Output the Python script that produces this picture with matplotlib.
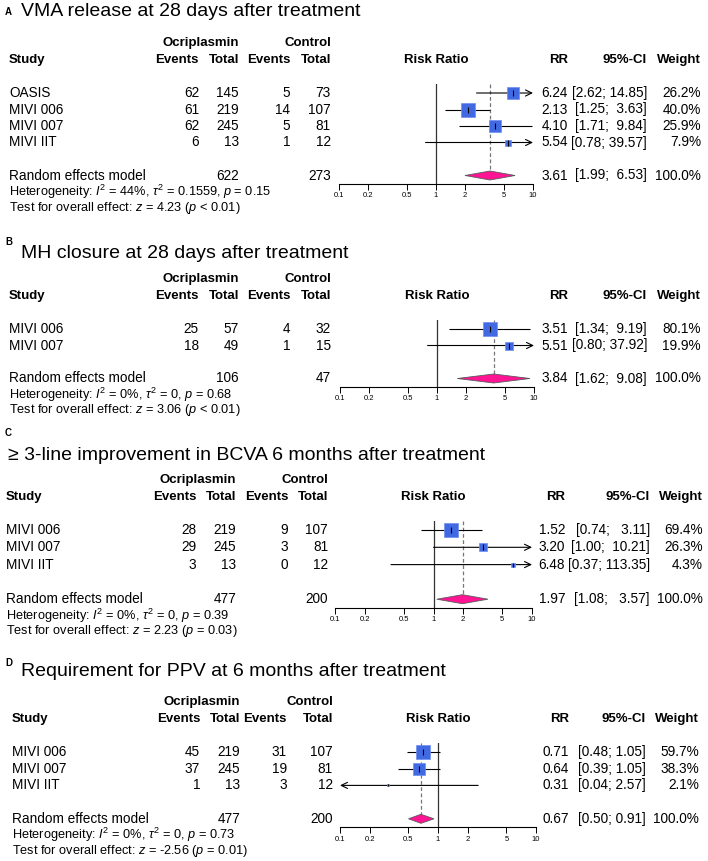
"""
Forest plots (4 panels) of ocriplasmin vs control, risk ratios, random effects.
Saves out.png (708 x 861 px).
"""

import numpy as np
import matplotlib
matplotlib.use("Agg")
import matplotlib.pyplot as plt

plt.rcParams["font.family"] = ["Liberation Sans", "DejaVu Sans"]
plt.rcParams["mathtext.fontset"] = "custom"
plt.rcParams["mathtext.rm"] = "Liberation Sans"
plt.rcParams["mathtext.it"] = "Liberation Sans:italic"
plt.rcParams["mathtext.bf"] = "Liberation Sans:bold"

# ----------------------------------------------------------------- data
# A: VMA release at 28 days
studies_a = ["OASIS", "MIVI 006", "MIVI 007", "MIVI IIT"]
ev_t_a = [62, 61, 62, 6]
n_t_a = [145, 219, 245, 13]
ev_c_a = [5, 14, 5, 1]
n_c_a = [73, 107, 81, 12]
rr_a = [6.24, 2.13, 4.10, 5.54]
lo_a = [2.62, 1.25, 1.71, 0.78]
hi_a = [14.85, 3.63, 9.84, 39.57]
w_a = [26.2, 40.0, 25.9, 7.9]
pooled_a = [3.61, 1.99, 6.53]
totals_a = [622, 273]
het_a = ["44%", "0.1559", "= 0.15"]
test_a = ["4.23", "< 0.01"]

# B: MH closure at 28 days
studies_b = ["MIVI 006", "MIVI 007"]
ev_t_b = [25, 18]
n_t_b = [57, 49]
ev_c_b = [4, 1]
n_c_b = [32, 15]
rr_b = [3.51, 5.51]
lo_b = [1.34, 0.80]
hi_b = [9.19, 37.92]
w_b = [80.1, 19.9]
pooled_b = [3.84, 1.62, 9.08]
totals_b = [106, 47]
het_b = ["0%", "0", "= 0.68"]
test_b = ["3.06", "< 0.01"]

# C: >= 3-line improvement in BCVA at 6 months
studies_c = ["MIVI 006", "MIVI 007", "MIVI IIT"]
ev_t_c = [28, 29, 3]
n_t_c = [219, 245, 13]
ev_c_c = [9, 3, 0]
n_c_c = [107, 81, 12]
rr_c = [1.52, 3.20, 6.48]
lo_c = [0.74, 1.00, 0.37]
hi_c = [3.11, 10.21, 113.35]
w_c = [69.4, 26.3, 4.3]
pooled_c = [1.97, 1.08, 3.57]
totals_c = [477, 200]
het_c = ["0%", "0", "= 0.39"]
test_c = ["2.23", "= 0.03"]

# D: requirement for PPV at 6 months
studies_d = ["MIVI 006", "MIVI 007", "MIVI IIT"]
ev_t_d = [45, 37, 1]
n_t_d = [219, 245, 13]
ev_c_d = [31, 19, 3]
n_c_d = [107, 81, 12]
rr_d = [0.71, 0.64, 0.31]
lo_d = [0.48, 0.39, 0.04]
hi_d = [1.05, 1.05, 2.57]
w_d = [59.7, 38.3, 2.1]
pooled_d = [0.67, 0.50, 0.91]
totals_d = [477, 200]
het_d = ["0%", "0", "= 0.73"]
test_d = ["-2.56", "= 0.01"]

titles = ["VMA release at 28 days after treatment",
          "MH closure at 28 days after treatment",
          "\u2265 3-line improvement in BCVA 6 months after treatment",
          "Requirement for PPV at 6 months after treatment"]
letters = ["A", "B", "C", "D"]
ticks = [0.1, 0.2, 0.5, 1, 2, 5, 10]
tick_labels = ["0.1", "0.2", "0.5", "1", "2", "5", "10"]

# ----------------------------------------------------------------- layout (px)
W, H = 708, 861
layouts = [
    dict(label=(5, 12), title=(21, 12), first=93, row_h=16.5, fx=(339, 533),
         study_x=9, cols=(199, 239, 290, 331), rcols=(568, 647, 701)),
    dict(label=(5, 242), title=(21, 254), first=329, row_h=16.5, fx=(340, 534),
         study_x=9, cols=(199, 239, 290, 331), rcols=(568, 647, 701)),
    dict(label=(5, 433), title=(8, 455), first=530, row_h=17.3, fx=(335, 532),
         study_x=6, cols=(196, 236, 288, 328), rcols=(565, 650, 703)),
    dict(label=(5, 663), title=(21, 671), first=752, row_h=16.7, fx=(340, 536),
         study_x=12, cols=(200, 240, 287, 333), rcols=(569, 646, 699)),
]

SQUARE = "#4169e1"
DIAMOND = "#ff1493"
FS = 9.8
FS_BOLD = 9.5
FS_SMALL = 9.2


def fmt_ci(lo, hi):
    """R meta style: pad numbers with spaces to a common width."""
    los = [f"{v:.2f}" for v in lo]
    his = [f"{v:.2f}" for v in hi]
    wl = max(len(s) for s in los)
    wh = max(len(s) for s in his)
    return [f"[{a.rjust(wl)}; {b.rjust(wh)}]" for a, b in zip(los, his)]


def draw_panel(fig, bg, lay, letter, title, studies, ev_t, n_t, ev_c, n_c,
               rr, lo, hi, w, pooled, totals, het, test):
    k = len(studies)
    first, rh = lay["first"], lay["row_h"]
    ys = [first + i * rh for i in range(k)]
    y_re = first + (k + 1) * rh
    y_axis = y_re + 8.5
    y_h2 = first - 33
    y_h1 = first - 50
    top = first - 9

    # titles
    bg.text(*lay["label"], letter, fontsize=7, fontweight="bold", va="center")
    bg.text(*lay["title"], title, fontsize=14, va="center")

    # headers
    c1, c2, c3, c4 = lay["cols"]
    r1, r2, r3 = lay["rcols"]
    hb = dict(fontsize=FS_BOLD, fontweight="bold", va="center")
    bg.text(lay["study_x"], y_h2, "Study", ha="left", **hb)
    bg.text(c2, y_h1, "Ocriplasmin", ha="right", **hb)
    bg.text(c4, y_h1, "Control", ha="right", **hb)
    for x, s in zip(lay["cols"], ["Events", "Total", "Events", "Total"]):
        bg.text(x, y_h2, s, ha="right", **hb)
    bg.text(sum(lay["fx"]) / 2, y_h2, "Risk Ratio", ha="center", **hb)
    bg.text(r1, y_h2, "RR", ha="right", **hb)
    bg.text(r2, y_h2, "95%-CI", ha="right", **hb)
    bg.text(r3, y_h2, "Weight", ha="right", **hb)

    # table rows
    ci_txt = fmt_ci(lo + [pooled[1]], hi + [pooled[2]])
    tk = dict(fontsize=FS, va="center")
    for i, y in enumerate(ys):
        bg.text(lay["study_x"], y, studies[i], ha="left", **tk)
        for x, v in zip(lay["cols"], [ev_t[i], n_t[i], ev_c[i], n_c[i]]):
            bg.text(x, y, str(v), ha="right", **tk)
        bg.text(r1, y, f"{rr[i]:.2f}", ha="right", **tk)
        bg.text(r2, y, ci_txt[i], ha="right", **tk)
        bg.text(r3, y, f"{w[i]:.1f}%", ha="right", **tk)

    bg.text(lay["study_x"], y_re, "Random effects model", ha="left", **tk)
    bg.text(c2, y_re, str(totals[0]), ha="right", **tk)
    bg.text(c4, y_re, str(totals[1]), ha="right", **tk)
    bg.text(r1, y_re, f"{pooled[0]:.2f}", ha="right", **tk)
    bg.text(r2, y_re, ci_txt[-1], ha="right", **tk)
    bg.text(r3, y_re, "100.0%", ha="right", **tk)

    bg.text(lay["study_x"], y_re + 16.5,
            f"Heterogeneity: $I^2$ = {het[0]}, $\\tau^2$ = {het[1]}, $p$ {het[2]}",
            fontsize=FS_SMALL, va="center")
    bg.text(lay["study_x"], y_re + 32,
            f"Test for overall effect: $z$ = {test[0]} ($p$ {test[1]})",
            fontsize=FS_SMALL, va="center")

    # forest axes: y data in figure pixels
    x0, x1 = lay["fx"]
    ax = fig.add_axes([x0 / W, 1 - y_axis / H, (x1 - x0) / W, (y_axis - top) / H])
    ax.set_facecolor("none")
    ax.set_xscale("log")
    ax.set_xlim(0.1, 10)
    ax.set_ylim(y_axis, top)
    for s in ["top", "left", "right"]:
        ax.spines[s].set_visible(False)
    ax.spines["bottom"].set_linewidth(0.8)
    ax.set_yticks([])
    ax.set_xticks(ticks)
    ax.set_xticklabels(tick_labels)
    ax.minorticks_off()
    ax.tick_params(axis="x", length=4, width=0.7, labelsize=5.5, pad=2)

    ax.axvline(1, color="#333333", lw=0.9)
    ax.plot([pooled[0], pooled[0]], [top, y_re - 4.5], color="#777777",
            lw=0.9, ls=(0, (3, 2)))

    wmax = max(w)
    arrow = dict(arrowstyle="->,head_length=0.45,head_width=0.22",
                 lw=0.8, color="black", shrinkA=0, shrinkB=0)
    for i, y in enumerate(ys):
        a, b = max(lo[i], 0.1), min(hi[i], 10)
        if hi[i] > 10:
            ax.annotate("", xy=(10, y), xytext=(a, y), arrowprops=arrow,
                        annotation_clip=False)
        elif lo[i] < 0.1:
            ax.annotate("", xy=(0.1, y), xytext=(b, y), arrowprops=arrow,
                        annotation_clip=False)
        else:
            ax.plot([a, b], [y, y], color="black", lw=0.8,
                    solid_capstyle="butt")
        ms = 10.2 * np.sqrt(w[i] / wmax)
        ax.plot(rr[i], y, marker="s", ms=ms, mfc=SQUARE, mec="#6d8ff0",
                mew=0.5, zorder=3, clip_on=False)
        ax.plot(rr[i], y, marker="|", ms=min(5, ms), mec="black", mfc="black",
                mew=0.8, zorder=4, clip_on=False)

    est, plo, phi = pooled
    ax.fill([plo, est, phi, est], [y_re, y_re - 4.5, y_re, y_re + 4.5],
            facecolor=DIAMOND, edgecolor="#5a5a5a", lw=0.6, zorder=3,
            clip_on=False)
    return ax


def main():
    fig = plt.figure(figsize=(W / 100, H / 100), dpi=100)
    bg = fig.add_axes([0, 0, 1, 1])
    bg.set_xlim(0, W)
    bg.set_ylim(H, 0)
    bg.axis("off")

    panels = [
        (studies_a, ev_t_a, n_t_a, ev_c_a, n_c_a, rr_a, lo_a, hi_a, w_a,
         pooled_a, totals_a, het_a, test_a),
        (studies_b, ev_t_b, n_t_b, ev_c_b, n_c_b, rr_b, lo_b, hi_b, w_b,
         pooled_b, totals_b, het_b, test_b),
        (studies_c, ev_t_c, n_t_c, ev_c_c, n_c_c, rr_c, lo_c, hi_c, w_c,
         pooled_c, totals_c, het_c, test_c),
        (studies_d, ev_t_d, n_t_d, ev_c_d, n_c_d, rr_d, lo_d, hi_d, w_d,
         pooled_d, totals_d, het_d, test_d),
    ]
    for lay, letter, title, p in zip(layouts, letters, titles, panels):
        draw_panel(fig, bg, lay, letter, title, *p)

    fig.savefig("out.png", dpi=100)
    plt.close(fig)


if __name__ == "__main__":
    main()
